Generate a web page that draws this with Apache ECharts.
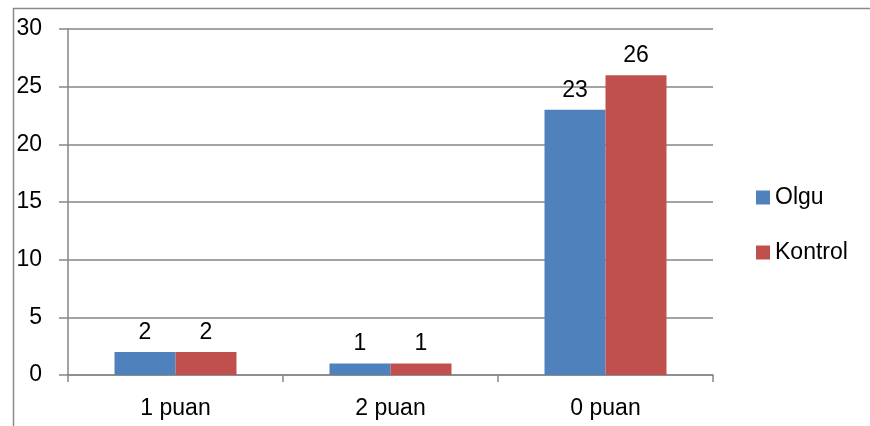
<!DOCTYPE html>
<html><head><meta charset="utf-8">
<script src="https://cdn.jsdelivr.net/npm/echarts@6/dist/echarts.min.js"></script>
<style>html,body{margin:0;padding:0;background:#fff}#c{width:870px;height:426px}</style>
</head><body><div id="c"></div>
<script>
const categories = ['1 puan', '2 puan', '0 puan'];
const olgu = [2, 1, 23];
const kontrol = [2, 1, 26];
const seriesNames = ['Olgu', 'Kontrol'];

const font = 'Liberation Sans, Arial, sans-serif';
const fs = 23;
const chart = echarts.init(document.getElementById('c'), null, {renderer: 'canvas'});
const lbl = {show: true, position: 'top', distance: 8, color: '#000', fontSize: fs, fontFamily: font};
chart.setOption({
  animation: false,
  graphic: [{type: 'rect', left: 11, top: 6, shape: {width: 900, height: 500},
    style: {fill: 'none', stroke: '#8a8a8a', lineWidth: 1.5}, silent: true}],
  grid: {left: 68, right: 157, top: 29, bottom: 51, containLabel: false},
  legend: {
    orient: 'vertical', left: 751, top: 181, itemWidth: 14, itemHeight: 14, itemGap: 32,
    icon: 'rect', textStyle: {fontSize: fs, fontFamily: font, color: '#000', padding: [0, 0, 0, 0]},
    data: seriesNames
  },
  xAxis: {
    type: 'category', data: categories,
    axisLine: {lineStyle: {color: '#868686', width: 1.5}},
    axisTick: {show: true, length: 7, alignWithLabel: false, lineStyle: {color: '#868686', width: 1.5}},
    axisLabel: {fontSize: fs, fontFamily: font, color: '#000', margin: 22}
  },
  yAxis: {
    type: 'value', min: 0, max: 30, interval: 5,
    axisLine: {show: true, lineStyle: {color: '#868686', width: 1.5}},
    axisTick: {show: true, length: 9, lineStyle: {color: '#868686', width: 1.5}},
    splitLine: {lineStyle: {color: '#868686', width: 1.5}},
    axisLabel: {fontSize: fs, fontFamily: font, color: '#000', margin: 26}
  },
  series: [
    {name: seriesNames[0], type: 'bar', data: olgu, barWidth: 61, barGap: '0%',
     itemStyle: {color: '#4F81BD'}, label: lbl},
    {name: seriesNames[1], type: 'bar', data: kontrol, barWidth: 61, barGap: '0%',
     itemStyle: {color: '#C0504D'}, label: lbl}
  ]
});
</script></body></html>
